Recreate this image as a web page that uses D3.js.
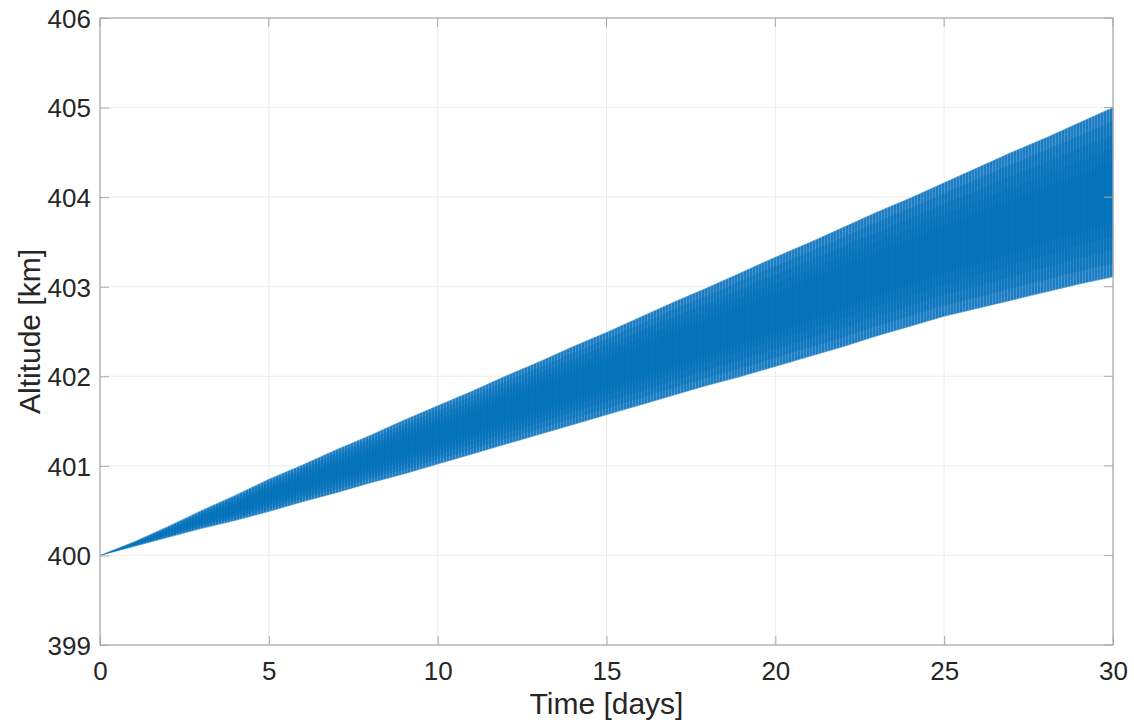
<!DOCTYPE html>
<html>
<head>
<meta charset="utf-8">
<script src="https://cdn.jsdelivr.net/npm/d3@7"></script>
<style>
  html, body { margin: 0; padding: 0; background: #fff; }
  svg { display: block; }
  text { font-family: "Liberation Sans", Arial, Helvetica, sans-serif; fill: #262626; }
</style>
</head>
<body>
<svg id="chart" width="1134" height="724"></svg>
<script>
// Orbit altitude envelope over 30 days: the oscillation fills the band
// between the lower and upper bounds sampled every day below.
const days      = [0, 1, 2, 3, 4, 5, 6, 7, 8, 9, 10, 11, 12, 13, 14, 15, 16, 17, 18, 19, 20, 21, 22, 23, 24, 25, 26, 27, 28, 29, 30];
const upperKm   = [400.00, 400.15, 400.32, 400.50, 400.67, 400.85, 401.01, 401.18, 401.34, 401.51, 401.67, 401.83, 402.00, 402.16, 402.33, 402.49, 402.66, 402.83, 402.99, 403.16, 403.33, 403.49, 403.66, 403.83, 403.99, 404.16, 404.33, 404.50, 404.66, 404.83, 405.00];
const lowerKm   = [400.00, 400.10, 400.20, 400.30, 400.39, 400.49, 400.60, 400.70, 400.81, 400.91, 401.02, 401.13, 401.24, 401.35, 401.46, 401.57, 401.68, 401.79, 401.90, 402.00, 402.11, 402.22, 402.33, 402.45, 402.56, 402.67, 402.76, 402.85, 402.94, 403.03, 403.11];
const xTicks    = [0, 5, 10, 15, 20, 25, 30];
const yTicks    = [399, 400, 401, 402, 403, 404, 405, 406];

const band = days.map((d, i) => ({ day: d, lo: lowerKm[i], hi: upperKm[i] }));

const svg = d3.select("#chart");
const margin = { left: 100, right: 21, top: 18, bottom: 79 };
const W = 1134, H = 724;
const x = d3.scaleLinear().domain([0, 30]).range([margin.left, W - margin.right]);
const y = d3.scaleLinear().domain([399, 406]).range([H - margin.bottom, margin.top]);

const axisColor = "#a8a8a8";

// grid
svg.append("g").selectAll("line").data(xTicks).join("line")
  .attr("x1", d => x(d)).attr("x2", d => x(d))
  .attr("y1", y(399)).attr("y2", y(406))
  .attr("stroke", "#ececec").attr("stroke-width", 1);
svg.append("g").selectAll("line").data(yTicks).join("line")
  .attr("x1", x(0)).attr("x2", x(30))
  .attr("y1", d => y(d)).attr("y2", d => y(d))
  .attr("stroke", "#ececec").attr("stroke-width", 1);

// vertical striping that gives the dense oscillation its texture
const defs = svg.append("defs");
const pat = defs.append("pattern").attr("id", "stripes")
  .attr("patternUnits", "userSpaceOnUse").attr("width", 3).attr("height", 10);
pat.append("rect").attr("width", 3).attr("height", 10).attr("fill", "#1c7dc3");
pat.append("rect").attr("x", 2).attr("width", 1).attr("height", 10).attr("fill", "#4a97cf");

const area = d3.area()
  .x(d => x(d.day))
  .y0(d => y(d.lo))
  .y1(d => y(d.hi));

svg.append("path").datum(band)
  .attr("d", area)
  .attr("fill", "url(#stripes)")
  .attr("stroke", "#4a97cf").attr("stroke-width", 0.6);

// denser core of the band where the traces overlap, built up in soft layers
[0.08, 0.16, 0.24, 0.32].forEach(f => {
  const core = d3.area()
    .x(d => x(d.day))
    .y0(d => y(d.lo + (d.hi - d.lo) * f))
    .y1(d => y(d.hi - (d.hi - d.lo) * f));
  svg.append("path").datum(band)
    .attr("d", core)
    .attr("fill", "#0070b9").attr("opacity", 0.38);
});

// axes
const fmt = d3.format("d");
const xAxis = d3.axisBottom(x).tickValues(xTicks).tickFormat(fmt).tickSizeInner(-9).tickSizeOuter(0).tickPadding(17);
const yAxis = d3.axisLeft(y).tickValues(yTicks).tickFormat(fmt).tickSizeInner(-9).tickSizeOuter(0).tickPadding(9);

const gx = svg.append("g").attr("transform", `translate(0,${y(399)})`).call(xAxis);
const gy = svg.append("g").attr("transform", `translate(${x(0)},0)`).call(yAxis);
[gx, gy].forEach(g => {
  g.select(".domain").remove();
  g.selectAll(".tick line").attr("stroke", axisColor);
  g.selectAll(".tick text").style("font-size", "26px").attr("fill", "#262626");
});
gy.selectAll(".tick text").attr("dy", "0.36em");

// box
svg.append("rect")
  .attr("x", x(0)).attr("y", y(406))
  .attr("width", x(30) - x(0)).attr("height", y(399) - y(406))
  .attr("fill", "none").attr("stroke", axisColor).attr("stroke-width", 1.2);
// mirrored ticks on top and right
svg.append("g").selectAll("line").data(xTicks).join("line")
  .attr("x1", d => x(d)).attr("x2", d => x(d))
  .attr("y1", y(406)).attr("y2", y(406) + 9).attr("stroke", axisColor);
svg.append("g").selectAll("line").data(yTicks).join("line")
  .attr("x1", x(30)).attr("x2", x(30) - 9)
  .attr("y1", d => y(d)).attr("y2", d => y(d)).attr("stroke", axisColor);

// labels
svg.append("text")
  .attr("x", (x(0) + x(30)) / 2).attr("y", 714)
  .attr("text-anchor", "middle").style("font-size", "30px")
  .text("Time [days]");
svg.append("text")
  .attr("transform", `translate(40,${(y(399) + y(406)) / 2}) rotate(-90)`)
  .attr("text-anchor", "middle").style("font-size", "30px")
  .text("Altitude [km]");
</script>
</body>
</html>
